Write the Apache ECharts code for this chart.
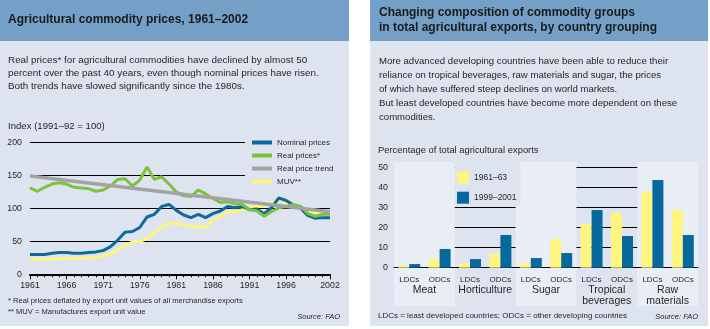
<!DOCTYPE html>
<html>
<head>
<meta charset="utf-8">
<script src="https://cdn.jsdelivr.net/npm/echarts@6/dist/echarts.min.js"></script>
<style>
html,body{margin:0;padding:0;background:#ffffff;}
#chart{width:710px;height:329px;}
</style>
</head>
<body>
<div id="chart"></div>
<script>
// ---------- DATA ----------
const years = [];
for (let y = 1961; y <= 2002; y++) years.push(String(y));

const nominalPrices = [30,30,30,32,33,33,32,32,33,34,36,42,52,64,65,71,87,91,103,106,97,90,86,91,86,92,96,103,101,103,98,99,92,101,116,112,105,100,89,85,86,86];
const realPrices    = [131,126,132,137,139,137,132,131,130,126,128,134,144,145,134,143,163,144,148,137,125,119,118,128,122,115,109,110,107,106,98,96,88,95,101,103,106,103,92,88,91,91];
const muv           = [23,23,23,23,24,24,24,24,25,26,28,31,37,44,49,50,54,64,71,78,77,75,73,72,71,83,88,95,95,98,101,103,103,108,115,108,102,99,96,93,91,91];
const trendStart = ['1961', 149];
const trendEnd   = ['2002', 95];
const lineYTicks = [0, 50, 100, 150, 200];

const barCategories = ['LDCs','ODCs','LDCs','ODCs','LDCs','ODCs','LDCs','ODCs','LDCs','ODCs'];
const groupNames = ['Meat','Horticulture','Sugar','Tropical\nbeverages','Raw\nmaterials'];
const share1961 = [1.2, 4.3, 2.3, 7.1, 2.3, 14.3, 21.9, 27.2, 37.8, 28.7];
const share1999 = [1.8, 9.3, 4.3, 16.3, 4.8, 7.3, 28.7, 15.8, 43.7, 16.3];

// ---------- STYLE ----------
const HEADER = '#74a0c7';
const BODY = '#dde4ef';
const BAND = '#e9edf5';
const INK = '#231f20';
const FONT = '"Liberation Sans", Arial, Helvetica, sans-serif';
const BLUE = '#0e6a9c';
const GREEN = '#7cc23e';
const GRAY = '#a3a3a3';
const YELLOW = '#fbf57c';
const BAR_YELLOW = '#fdf57d';
const BAR_BLUE = '#07699b';

const chart = echarts.init(document.getElementById('chart'), null, {renderer: 'canvas'});

function txt(text, left, top, size, extra) {
  return {
    text: text, left: left, top: top, padding: 0,
    textStyle: Object.assign({fontFamily: FONT, fontSize: size, fontWeight: 'normal', color: INK}, extra || {})
  };
}

const bigTickIdx = (i) => (i % 5 === 0 && i <= 35) || i === 41;

const option = {
  animation: false,
  backgroundColor: '#ffffff',
  graphic: {
    elements: [
      {type: 'rect', z: -100, shape: {x: 0, y: 0, width: 349, height: 326}, style: {fill: BODY}},
      {type: 'rect', z: -99, shape: {x: 0, y: 0, width: 349, height: 41}, style: {fill: HEADER}},
      {type: 'rect', z: -100, shape: {x: 370, y: 0, width: 338, height: 326}, style: {fill: BODY}},
      {type: 'rect', z: -99, shape: {x: 370, y: 0, width: 338, height: 41}, style: {fill: HEADER}}
    ]
  },
  title: [
    txt('Agricultural commodity prices, 1961–2002', 8, 13, 12, {fontWeight: 'bold', lineHeight: 14, color: '#1a1a1a'}),
    txt('Real prices* for agricultural commodities have declined by almost 50\npercent over the past 40 years, even though nominal prices have risen.\nBoth trends have slowed significantly since the 1980s.', 8, 54.4, 9.9, {lineHeight: 12.7}),
    txt('Index (1991–92 = 100)', 8, 120.7, 9.6, {lineHeight: 12}),
    txt('* Real prices deflated by export unit values of all merchandise exports\n** MUV = Manufactures export unit value', 8, 295.2, 7.6, {lineHeight: 11}),
    Object.assign(txt('Source: FAO', null, 312, 7.5, {fontStyle: 'italic', lineHeight: 10}), {right: 370, left: undefined}),
    txt('Changing composition of commodity groups\nin total agricultural exports, by country grouping', 379, 4.8, 12, {fontWeight: 'bold', lineHeight: 15, color: '#1a1a1a'}),
    txt('More advanced developing countries have been able to reduce their\nreliance on tropical beverages, raw materials and sugar, the prices\nof which have suffered steep declines on world markets.\nBut least developed countries have become more dependent on these\ncommodities.', 379, 54.7, 9.6, {lineHeight: 13.9}),
    txt('Percentage of total agricultural exports', 378, 144.7, 9.4, {lineHeight: 12}),
    txt('LDCs = least developed countries; ODCs = other developing countries', 378, 310.7, 8, {lineHeight: 10}),
    Object.assign(txt('Source: FAO', null, 311.7, 7.5, {fontStyle: 'italic', lineHeight: 10}), {right: 12, left: undefined})
  ],
  legend: [
    {
      data: ['Nominal prices', 'Real prices*', 'Real price trend', 'MUV**'],
      orient: 'vertical', left: 245, top: 132, padding: [5, 8, 5, 7],
      backgroundColor: BODY, icon: 'rect', itemWidth: 20, itemHeight: 4, itemGap: 2,
      selectedMode: false,
      textStyle: {fontFamily: FONT, fontSize: 8, color: INK, lineHeight: 11}
    },
    {
      data: ['1961–63', '1999–2001'],
      orient: 'vertical', left: 455, top: 162, padding: [9.7, 4, 2, 2],
      backgroundColor: BODY, icon: 'rect', itemWidth: 12, itemHeight: 12, itemGap: 8,
      selectedMode: false,
      textStyle: {fontFamily: FONT, fontSize: 8.5, color: INK}
    }
  ],
  grid: [
    {left: 30, right: 380, top: 142.5, bottom: 54.7},
    {left: 394, right: 12, top: 162, bottom: 23},
    {left: 394, right: 12, top: 167.3, bottom: 61.3}
  ],
  xAxis: [
    {
      type: 'category', gridIndex: 0, data: years, boundaryGap: false,
      axisLine: {lineStyle: {color: '#000', width: 2}},
      axisTick: {show: true, interval: 0, length: 3, lineStyle: {color: '#000', width: 1}},
      axisLabel: {interval: bigTickIdx, margin: 6.4, fontFamily: FONT, fontSize: 8.8, color: INK, lineHeight: 10},
      splitLine: {show: false}
    },
    {
      type: 'category', gridIndex: 0, data: years, boundaryGap: false, position: 'bottom',
      axisLine: {show: false},
      axisTick: {show: true, interval: bigTickIdx, length: 5, lineStyle: {color: '#000', width: 1}},
      axisLabel: {show: false}, splitLine: {show: false}
    },
    {
      type: 'category', gridIndex: 1, data: groupNames, boundaryGap: true,
      axisLine: {show: false}, axisTick: {show: false}, axisLabel: {show: false},
      splitLine: {show: false},
      splitArea: {show: true, interval: 0, areaStyle: {color: [BAND, 'rgba(0,0,0,0)']}}
    },
    {
      type: 'category', gridIndex: 2, data: barCategories, boundaryGap: true,
      axisLine: {lineStyle: {color: '#000', width: 1}}, axisTick: {show: false},
      axisLabel: {interval: 0, margin: 6.6, fontFamily: FONT, fontSize: 8, color: INK, lineHeight: 10},
      splitLine: {show: false}
    },
    {
      type: 'category', gridIndex: 2, data: groupNames, boundaryGap: true, position: 'bottom',
      axisLine: {show: false}, axisTick: {show: false},
      axisLabel: {interval: 0, margin: 16.8, fontFamily: FONT, fontSize: 10.5, color: INK, lineHeight: 11},
      splitLine: {show: false}
    }
  ],
  yAxis: [
    {
      type: 'value', gridIndex: 0, min: lineYTicks[0], max: lineYTicks[lineYTicks.length - 1], interval: 50,
      axisLine: {show: false}, axisTick: {show: false},
      axisLabel: {margin: 8, fontFamily: FONT, fontSize: 8.8, color: INK},
      splitLine: {lineStyle: {color: '#000', width: 1}}
    },
    {type: 'value', gridIndex: 1, show: false, min: 0, max: 1},
    {
      type: 'value', gridIndex: 2, min: 0, max: 50, interval: 10,
      axisLine: {show: false}, axisTick: {show: false},
      axisLabel: {margin: 6, fontFamily: FONT, fontSize: 8.8, color: INK},
      splitLine: {lineStyle: {color: '#000', width: 1}}
    }
  ],
  series: [
    {name: 'MUV**', type: 'line', xAxisIndex: 0, yAxisIndex: 0, data: muv, showSymbol: false, symbol: 'none',
      lineStyle: {color: YELLOW, width: 3}, itemStyle: {color: YELLOW}, z: 2},
    {name: 'Nominal prices', type: 'line', xAxisIndex: 0, yAxisIndex: 0, data: nominalPrices, showSymbol: false, symbol: 'none',
      lineStyle: {color: BLUE, width: 3}, itemStyle: {color: BLUE}, z: 3},
    {name: 'Real prices*', type: 'line', xAxisIndex: 0, yAxisIndex: 0, data: realPrices, showSymbol: false, symbol: 'none',
      lineStyle: {color: GREEN, width: 3}, itemStyle: {color: GREEN}, z: 3},
    {name: 'Real price trend', type: 'line', xAxisIndex: 0, yAxisIndex: 0, data: [trendStart, trendEnd], showSymbol: false, symbol: 'none',
      lineStyle: {color: GRAY, width: 3.5}, itemStyle: {color: GRAY}, z: 4},
    {name: '1961–63', type: 'bar', xAxisIndex: 3, yAxisIndex: 2, data: share1961, barWidth: 11, barGap: '0%',
      itemStyle: {color: BAR_YELLOW}},
    {name: '1999–2001', type: 'bar', xAxisIndex: 3, yAxisIndex: 2, data: share1999, barWidth: 11, barGap: '0%',
      itemStyle: {color: BAR_BLUE}}
  ]
};

chart.setOption(option);
</script>
</body>
</html>
